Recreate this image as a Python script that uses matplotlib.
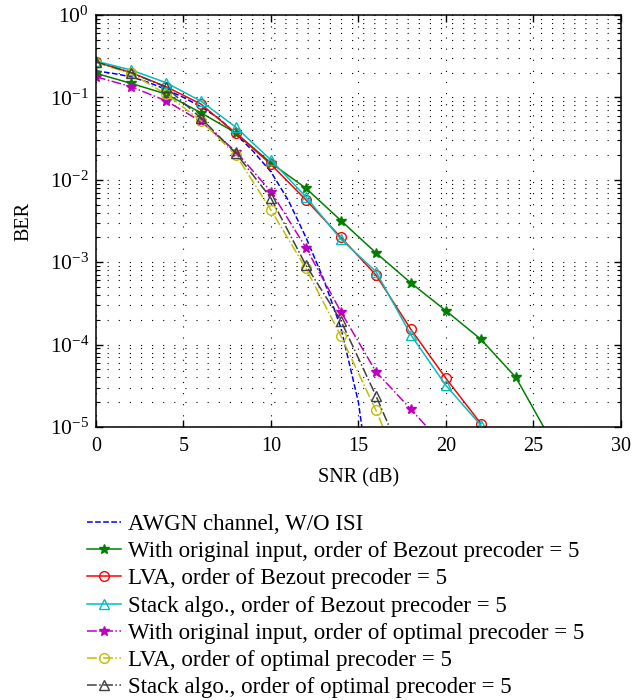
import numpy as np
import matplotlib.pyplot as plt
from matplotlib.ticker import LogLocator, NullFormatter, MultipleLocator

plt.rcParams['font.family'] = ['Liberation Serif', 'DejaVu Serif']
plt.rcParams['mathtext.fontset'] = 'custom'
plt.rcParams['mathtext.rm'] = 'Liberation Serif'
plt.rcParams['mathtext.it'] = 'Liberation Serif:italic'

# SNR grid (dB)
snr_awgn = [0, 1, 2, 3, 4, 5, 6, 7, 8, 9, 10, 11, 12, 13, 14, 15, 16]
ber_awgn = [0.21, 0.195, 0.178, 0.152, 0.125, 0.10, 0.077, 0.056, 0.036, 0.022,
            0.0125, 0.0056, 0.0020, 6.3e-4, 1.6e-4, 2.0e-5, 6e-7]

snr_bez_orig = [0, 2, 4, 6, 8, 10, 12, 14, 16, 18, 20, 22, 24, 26]
ber_bez_orig = [0.196, 0.148, 0.11, 0.065, 0.037, 0.016, 0.0079, 0.0032, 0.0013,
                5.6e-4, 2.58e-4, 1.16e-4, 4.0e-5, 7e-6]

snr_bez = [0, 2, 4, 6, 8, 10, 12, 14, 16, 18, 20, 22]
ber_bez_lva = [0.27, 0.20, 0.135, 0.083, 0.0366, 0.0154, 0.0057, 0.0020, 7.0e-4,
               1.53e-4, 3.9e-5, 1.1e-5]
ber_bez_stack = [0.275, 0.215, 0.151, 0.090, 0.0434, 0.0174, 0.0062, 0.0019, 7.7e-4,
                 1.31e-4, 3.2e-5, 1.05e-5]

snr_opt = [0, 2, 4, 6, 8, 10, 12, 14, 16, 18, 20]
ber_opt_orig = [0.178, 0.135, 0.091, 0.051, 0.022, 0.0072, 0.0015, 2.5e-4, 4.7e-5,
                1.64e-5, 5.6e-6]
ber_opt_lva = [0.265, 0.195, 0.11, 0.052, 0.020, 0.0043, 8.4e-4, 1.27e-4, 1.6e-5,
               1.6e-6, 2e-7]
ber_opt_stack = [0.27, 0.20, 0.133, 0.056, 0.021, 0.006, 9.2e-4, 1.95e-4, 2.4e-5,
                 2.5e-6, 3e-7]

labels = ['AWGN channel, W/O ISI',
          'With original input, order of Bezout precoder = 5',
          'LVA, order of Bezout precoder = 5',
          'Stack algo., order of Bezout precoder = 5',
          'With original input, order of optimal precoder = 5',
          'LVA, order of optimal precoder = 5',
          'Stack algo., order of optimal precoder = 5']

fig = plt.figure(figsize=(6.42, 7.0), dpi=100)
ax = fig.add_axes([0.1495, 0.39, 0.8175, 0.5886])

ax.semilogy(snr_awgn, ber_awgn, '--', color='#0000ff', lw=1.1, label=labels[0])
ax.semilogy(snr_bez_orig, ber_bez_orig, '-', color='#007f00', lw=1.1, marker='*',
            ms=7, label=labels[1])
ax.semilogy(snr_bez, ber_bez_lva, '-', color='#ff0000', lw=1.1, marker='o', ms=7,
            mfc='none', label=labels[2])
ax.semilogy(snr_bez, ber_bez_stack, '-', color='#00bfbf', lw=1.1, marker='^', ms=7,
            mfc='none', label=labels[3])
ax.semilogy(snr_opt, ber_opt_orig, '-.', color='#bf00bf', lw=1.1, marker='*', ms=7,
            label=labels[4])
ax.semilogy(snr_opt, ber_opt_lva, '-.', color='#bfbf00', lw=1.1, marker='o', ms=7,
            mfc='none', label=labels[5])
ax.semilogy(snr_opt, ber_opt_stack, '-.', color='#404040', lw=1.1, marker='^', ms=7,
            mfc='none', label=labels[6])

ax.set_xlim(0, 30)
ax.set_ylim(1e-5, 1)
ax.xaxis.set_major_locator(MultipleLocator(5))
ax.yaxis.set_major_locator(LogLocator(base=10, numticks=10))
ax.yaxis.set_minor_locator(LogLocator(base=10, subs=np.arange(2, 10), numticks=10))
ax.yaxis.set_minor_formatter(NullFormatter())

grid_style = dict(color='black', linestyle=(0, (1, 9)), linewidth=0.8)
ax.grid(True, which='major', axis='both', **grid_style)
ax.grid(True, which='minor', axis='y', **grid_style)
ax.set_axisbelow(True)

ax.tick_params(which='both', direction='in', top=True, right=True)
ax.tick_params(axis='x', labelsize=14.5, pad=7)
ax.tick_params(axis='y', labelsize=15.5, pad=5)
ax.tick_params(which='major', length=5, width=1)
ax.tick_params(which='minor', length=3, width=0.8)
for s in ax.spines.values():
    s.set_linewidth(1.1)

ax.set_xlabel('SNR (dB)', fontsize=14.5, labelpad=9)
ax.set_ylabel('BER', fontsize=14.5, labelpad=12)

fig.legend(loc='upper left', bbox_to_anchor=(0.135, 0.266), frameon=False,
           fontsize=16.5, borderpad=0, borderaxespad=0, handlelength=1.5,
           handletextpad=0.3, labelspacing=0.27)

fig.savefig('out.png', dpi=100)
